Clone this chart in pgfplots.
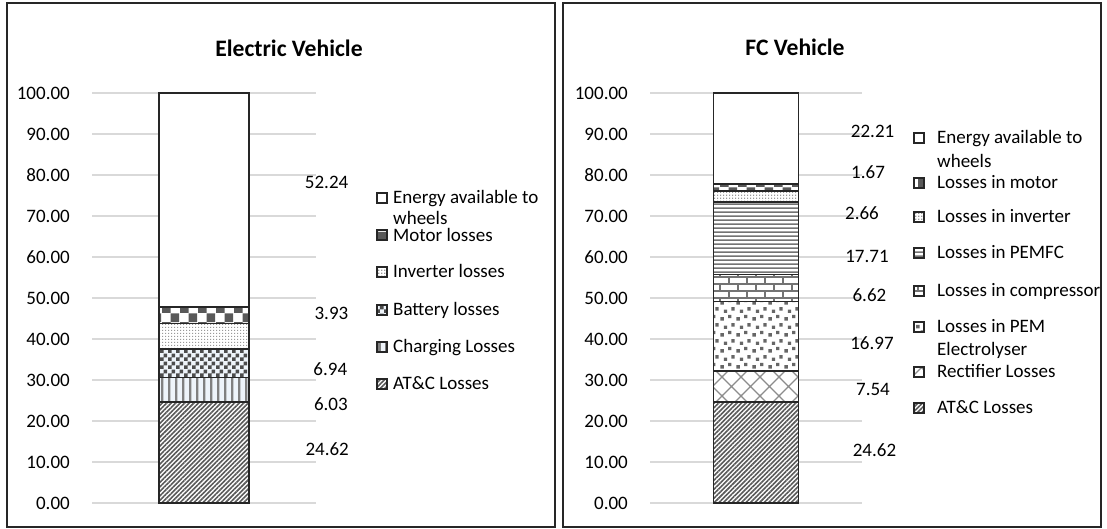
\documentclass[border=0pt]{standalone}
\usepackage{fontspec}
\setmainfont{Carlito}
\usepackage{pgfplots}
\pgfplotsset{compat=1.18}
\usetikzlibrary{patterns,patterns.meta}

\definecolor{gridc}{HTML}{D9D9D9}
\definecolor{edge}{HTML}{262626}
\definecolor{pat}{HTML}{595959}
\definecolor{lblue}{HTML}{EEF4FA}

\pgfdeclarepatternformonly{checkbig}{\pgfqpoint{0pt}{0pt}}{\pgfqpoint{18pt}{18pt}}{\pgfqpoint{18pt}{18pt}}{%
  \pgfpathrectangle{\pgfqpoint{0pt}{0pt}}{\pgfqpoint{9pt}{9pt}}%
  \pgfpathrectangle{\pgfqpoint{9pt}{9pt}}{\pgfqpoint{9pt}{9pt}}%
  \pgfusepath{fill}}
\pgfdeclarepatternformonly{checksmall}{\pgfqpoint{0pt}{0pt}}{\pgfqpoint{8pt}{8pt}}{\pgfqpoint{8pt}{8pt}}{%
  \pgfpathrectangle{\pgfqpoint{0pt}{0pt}}{\pgfqpoint{4pt}{4pt}}%
  \pgfpathrectangle{\pgfqpoint{4pt}{4pt}}{\pgfqpoint{4pt}{4pt}}%
  \pgfusepath{fill}}
\pgfdeclarepatternformonly{dotgrid}{\pgfqpoint{0pt}{0pt}}{\pgfqpoint{3pt}{3pt}}{\pgfqpoint{3pt}{3pt}}{%
  \pgfpathrectangle{\pgfqpoint{0pt}{0pt}}{\pgfqpoint{1.6pt}{1.6pt}}%
  \pgfusepath{fill}}
\pgfdeclarepatternformonly{hstripes}{\pgfqpoint{0pt}{0pt}}{\pgfqpoint{200pt}{4pt}}{\pgfqpoint{200pt}{4pt}}{%
  \pgfpathrectangle{\pgfqpoint{0pt}{0pt}}{\pgfqpoint{200pt}{2pt}}%
  \pgfusepath{fill}}
\pgfdeclarepatternformonly{vstripes}{\pgfqpoint{0pt}{0pt}}{\pgfqpoint{7pt}{200pt}}{\pgfqpoint{7pt}{200pt}}{%
  \pgfpathrectangle{\pgfqpoint{0pt}{0pt}}{\pgfqpoint{2.8pt}{200pt}}%
  \pgfusepath{fill}}
\pgfdeclarepatternformonly{confetti}{\pgfqpoint{0pt}{0pt}}{\pgfqpoint{16pt}{16pt}}{\pgfqpoint{16pt}{16pt}}{%
  \pgfpathrectangle{\pgfqpoint{0.5pt}{0.5pt}}{\pgfqpoint{3.5pt}{3.5pt}}%
  \pgfpathrectangle{\pgfqpoint{8.5pt}{3pt}}{\pgfqpoint{3.5pt}{3.5pt}}%
  \pgfpathrectangle{\pgfqpoint{4pt}{8.5pt}}{\pgfqpoint{3.5pt}{3.5pt}}%
  \pgfpathrectangle{\pgfqpoint{12pt}{11pt}}{\pgfqpoint{3.5pt}{3.5pt}}%
  \pgfusepath{fill}}
\pgfdeclarepatternformonly{brickh}{\pgfqpoint{-1pt}{-1pt}}{\pgfqpoint{19pt}{15pt}}{\pgfqpoint{18pt}{14pt}}{%
  \pgfsetlinewidth{1.6pt}%
  \pgfpathmoveto{\pgfqpoint{-1pt}{0pt}}\pgfpathlineto{\pgfqpoint{19pt}{0pt}}%
  \pgfpathmoveto{\pgfqpoint{-1pt}{7pt}}\pgfpathlineto{\pgfqpoint{19pt}{7pt}}%
  \pgfpathmoveto{\pgfqpoint{0pt}{0pt}}\pgfpathlineto{\pgfqpoint{0pt}{7pt}}%
  \pgfpathmoveto{\pgfqpoint{9pt}{7pt}}\pgfpathlineto{\pgfqpoint{9pt}{14pt}}%
  \pgfusepath{stroke}}
\pgfdeclarepatternformonly{diagcross}{\pgfqpoint{-1pt}{-1pt}}{\pgfqpoint{20pt}{20pt}}{\pgfqpoint{19pt}{19pt}}{%
  \pgfsetlinewidth{1.2pt}%
  \pgfpathmoveto{\pgfqpoint{-1pt}{-1pt}}\pgfpathlineto{\pgfqpoint{20pt}{20pt}}%
  \pgfpathmoveto{\pgfqpoint{-1pt}{20pt}}\pgfpathlineto{\pgfqpoint{20pt}{-1pt}}%
  \pgfusepath{stroke}}

\tikzset{
  atc/.style={preaction={fill=white}, pattern={Lines[angle=45,distance=3.2pt,line width=1.6pt]}, pattern color=pat},
  charging/.style={preaction={fill=lblue}, pattern=vstripes, pattern color=black!50},
  battery/.style={preaction={fill=lblue}, pattern=checksmall, pattern color=black!70},
  inverter/.style={preaction={fill=white}, pattern=dotgrid, pattern color=black!40},
  motor/.style={preaction={fill=white}, pattern=checkbig, pattern color=pat},
  energy/.style={fill=white},
  rectifier/.style={preaction={fill=white}, pattern=diagcross, pattern color=black!45},
  pem/.style={preaction={fill=white}, pattern=confetti, pattern color=black!60},
  compressor/.style={preaction={fill=white}, pattern=brickh, pattern color=black!55},
  pemfc/.style={preaction={fill=white}, pattern=hstripes, pattern color=black!55},
  lbl/.style={font=\fontsize{19}{22}\selectfont, inner sep=0pt},
  leg/.style={font=\fontsize{19}{22}\selectfont, inner sep=0pt, anchor=base west},
  key/.style={draw=edge, line width=1.2pt},
}

\pgfplotsset{
  panel/.style={
    anchor=south west, scale only axis, height=410pt,
    xmin=-1, xmax=1, ymin=0, ymax=100,
    axis x line=none, axis y line=left,
    y axis line style={draw=none},
    ytick={0,10,...,100},
    ymajorgrids, major grid style={draw=gridc, line width=1.8pt},
    major tick length=0pt,
    yticklabel style={font=\fontsize{19}{22}\selectfont, anchor=east, inner sep=0pt, xshift=-22pt,
      /pgf/number format/fixed, /pgf/number format/fixed zerofill, /pgf/number format/precision=2},
    /pgf/number format/assume math mode=true,
    ybar stacked,
    clip=false,
    every axis plot/.append style={draw=edge, line width=1.5pt},
  }
}

\begin{document}
\begin{tikzpicture}[x=1pt,y=1pt]
\useasboundingbox (0,0) rectangle (1107,529);
\fill[white] (0,0) rectangle (1107,529);
\draw[edge, line width=1.5pt] (7,2) rectangle (555,526);
\draw[edge, line width=1.5pt] (563,2) rectangle (1101,526);

\node[anchor=base, font=\fontsize{23.6}{28}\selectfont\bfseries] at (289,472) {Electric Vehicle};
\node[anchor=base, font=\fontsize{23.6}{28}\selectfont\bfseries] at (795,473) {FC Vehicle};

% ---------------- Electric Vehicle ----------------
\begin{axis}[panel, at={(92pt,26pt)}, width=224pt, bar width=90pt]
\addplot[atc]      coordinates {(0,24.62)};
\addplot[charging] coordinates {(0,6.03)};
\addplot[battery]  coordinates {(0,6.94)};
\addplot[inverter] coordinates {(0,6.24)};
\addplot[motor]    coordinates {(0,3.93)};
\addplot[energy]   coordinates {(0,52.24)};
\node[lbl, anchor=east] at (axis cs:1.29,78.3) {52.24};
\node[lbl, anchor=east] at (axis cs:1.29,46.3) {3.93};
\node[lbl, anchor=east] at (axis cs:1.28,32.7) {6.94};
\node[lbl, anchor=east] at (axis cs:1.285,24.1) {6.03};
\node[lbl, anchor=east] at (axis cs:1.295,13.2) {24.62};
\end{axis}

% legend (left)
\draw[key, energy]   (377,326) rectangle ++(10,10);
\draw[key, motor]    (377,289) rectangle ++(10,10);
\draw[key, inverter] (377,252) rectangle ++(10,10);
\draw[key, battery]  (377,214) rectangle ++(10,10);
\draw[key, charging] (377,177) rectangle ++(10,10);
\draw[key, atc]      (377,140) rectangle ++(10,10);
\node[leg] at (393,325) {Energy available to};
\node[leg] at (393,304) {wheels};
\node[leg] at (393,287) {Motor losses};
\node[leg] at (393,251) {Inverter losses};
\node[leg] at (393,213) {Battery losses};
\node[leg] at (393,176) {Charging Losses};
\node[leg] at (393,139) {AT\&C Losses};

% ---------------- FC Vehicle ----------------
\begin{axis}[panel, at={(650pt,26pt)}, width=212pt, bar width=85pt]
\addplot[atc]        coordinates {(0,24.62)};
\addplot[rectifier]  coordinates {(0,7.54)};
\addplot[pem]        coordinates {(0,16.97)};
\addplot[compressor] coordinates {(0,6.62)};
\addplot[pemfc]      coordinates {(0,17.71)};
\addplot[inverter]   coordinates {(0,2.66)};
\addplot[motor]      coordinates {(0,1.67)};
\addplot[energy]     coordinates {(0,22.21)};
\node[lbl] at (axis cs:1.10,90.7) {22.21};
\node[lbl] at (axis cs:1.057,80.7) {1.67};
\node[lbl] at (axis cs:1.00,70.7) {2.66};
\node[lbl] at (axis cs:1.047,60.2) {17.71};
\node[lbl] at (axis cs:1.07,50.7) {6.62};
\node[lbl] at (axis cs:1.094,39.0) {16.97};
\node[lbl] at (axis cs:1.104,27.8) {7.54};
\node[lbl] at (axis cs:1.118,12.9) {24.62};
\end{axis}

% legend (right)
\draw[key, energy]     (914,386) rectangle ++(10,10);
\draw[key, motor]      (914,341) rectangle ++(10,10);
\draw[key, inverter]   (914,307) rectangle ++(10,10);
\draw[key, pemfc]      (914,271) rectangle ++(10,10);
\draw[key, compressor] (914,233) rectangle ++(10,10);
\draw[key, pem]        (914,197) rectangle ++(10,10);
\draw[key, rectifier]  (914,152) rectangle ++(10,10);
\draw[key, atc]        (914,116) rectangle ++(10,10);
\node[leg] at (937,385) {Energy available to};
\node[leg] at (937,361) {wheels};
\node[leg] at (937,340) {Losses in motor};
\node[leg] at (937,306) {Losses in inverter};
\node[leg] at (937,270) {Losses in PEMFC};
\node[leg] at (937,232) {Losses in compressor};
\node[leg] at (937,196) {Losses in PEM};
\node[leg] at (937,173) {Electrolyser};
\node[leg] at (937,151) {Rectifier Losses};
\node[leg] at (937,115) {AT\&C Losses};
\end{tikzpicture}
\end{document}
